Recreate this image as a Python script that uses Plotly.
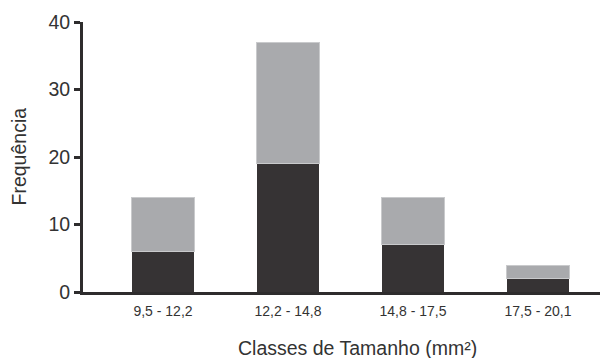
import plotly.graph_objects as go

categories = ["9,5 - 12,2", "12,2 - 14,8", "14,8 - 17,5", "17,5 - 20,1"]
dark_values = [6, 19, 7, 2]
gray_values = [8, 18, 7, 2]
y_ticks = [0, 10, 20, 30, 40]

AX = "#2e2c2d"
TXT = "#333333"
FONT = "Liberation Sans, Arial, sans-serif"

fig = go.Figure()
fig.add_trace(go.Bar(x=categories, y=dark_values, marker=dict(color="#363334", line=dict(width=0)),
                     showlegend=False))
fig.add_trace(go.Bar(x=categories, y=gray_values, marker=dict(color="#a9aaad", line=dict(color="#c9cacc", width=1)),
                     showlegend=False))

# the page body has an 8px margin, so the figure is sized/offset to compensate
fig.update_layout(
    barmode="stack",
    bargap=0.5,
    width=600, height=350,
    margin=dict(l=75, r=0, t=14, b=66),
    plot_bgcolor="white", paper_bgcolor="white",
    font=dict(family=FONT, color=TXT),
    xaxis=dict(
        range=[-0.64, 3.56], automargin=False,
        showline=True, linecolor=AX, linewidth=3,
        ticks="", showgrid=False, zeroline=False,
        tickfont=dict(size=14, color=TXT),
        ticklabelstandoff=4,
    ),
    yaxis=dict(
        range=[0, 40], tickvals=y_ticks, automargin=False,
        showline=True, linecolor=AX, linewidth=3,
        ticks="outside", ticklen=6, tickwidth=3, tickcolor=AX,
        showgrid=False, zeroline=False,
        tickfont=dict(size=19.5, color=TXT),
    ),
    annotations=[
        dict(text="Classes de Tamanho (mm²)", xref="paper", yref="paper", x=0.5, y=0,
             xshift=12, yshift=-56, xanchor="center", yanchor="middle", showarrow=False,
             font=dict(size=19.5, color=TXT)),
        dict(text="Frequência", xref="paper", yref="paper", x=0, y=0.5,
             xshift=-64.5, xanchor="center", yanchor="middle", textangle=-90, showarrow=False,
             font=dict(size=19.5, color=TXT)),
    ],
)

fig.write_html("out.html")
